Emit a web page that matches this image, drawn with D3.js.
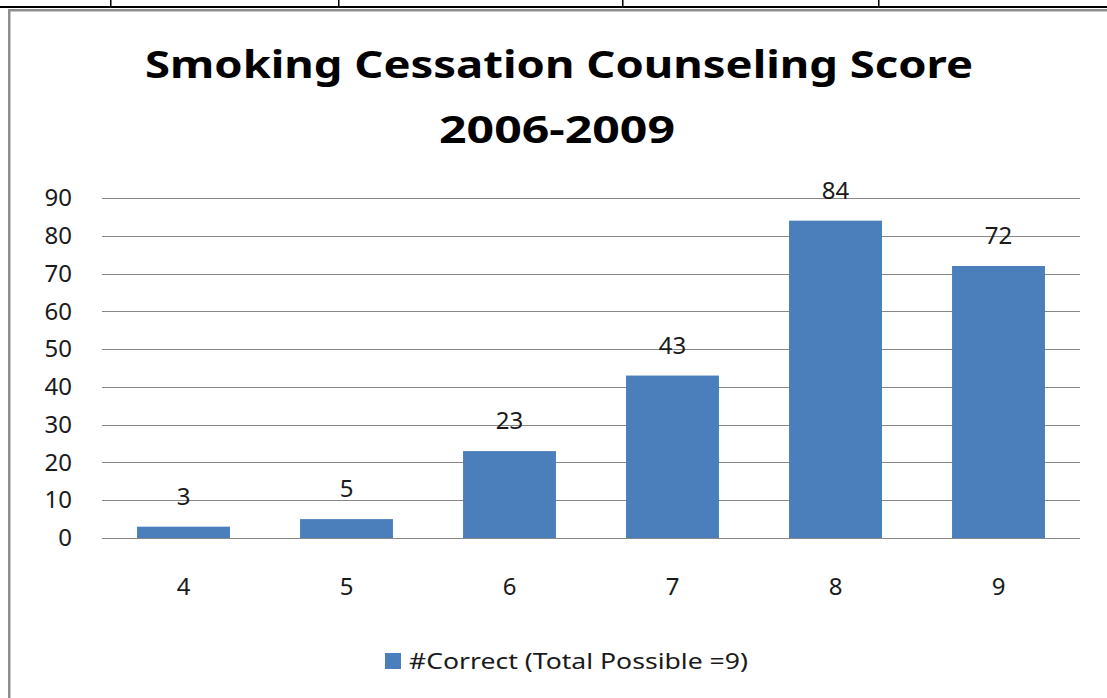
<!DOCTYPE html>
<html>
<head>
<meta charset="utf-8">
<script src="https://cdn.jsdelivr.net/npm/d3@7"></script>
<style>
  html, body { margin: 0; padding: 0; background: #fff; }
  svg { display: block; font-family: "Noto Sans", "Open Sans", sans-serif; }
</style>
</head>
<body>
<div id="chart"></div>
<script>
/** chart data */
const titleLines = ["Smoking Cessation Counseling Score", "2006-2009"];
const categories = ["4", "5", "6", "7", "8", "9"];
const values = [3, 5, 23, 43, 84, 72];
const yTicks = [0, 10, 20, 30, 40, 50, 60, 70, 80, 90];
const seriesName = "#Correct (Total Possible =9)";
const tableCols = [110, 338, 622, 878];

const width = 1107;
const height = 698;
const color = "#4a7fbc";

const svg = d3
  .select("#chart")
  .append("svg")
  .attr("width", width)
  .attr("height", height);

svg.append("rect").attr("width", width).attr("height", height).attr("fill", "#fff");

/** remnants of the surrounding table */
svg.append("rect").attr("x", 0).attr("y", 6).attr("width", width).attr("height", 2).attr("fill", "#000");
for (const x of tableCols)
  svg.append("rect").attr("x", x).attr("y", 0).attr("width", 1.5).attr("height", 7).attr("fill", "#000");

/** chart frame */
svg.append("rect").attr("x", 8).attr("y", 9).attr("width", width).attr("height", 2.5).attr("fill", "#8e8e8e");
svg.append("rect").attr("x", 8).attr("y", 9).attr("width", 2.5).attr("height", height).attr("fill", "#8e8e8e");

/** title */
svg
  .append("text")
  .attr("x", 559)
  .attr("y", 78)
  .attr("text-anchor", "middle")
  .attr("font-size", 38)
  .attr("font-weight", "bold")
  .attr("textLength", 828)
  .attr("lengthAdjust", "spacingAndGlyphs")
  .text(titleLines[0]);
svg
  .append("text")
  .attr("x", 557)
  .attr("y", 143)
  .attr("text-anchor", "middle")
  .attr("font-size", 38)
  .attr("font-weight", "bold")
  .attr("textLength", 236)
  .attr("lengthAdjust", "spacingAndGlyphs")
  .text(titleLines[1]);

/** scales */
const plot = { left: 102, right: 1080, top: 198, bottom: 538 };
const x = d3
  .scaleBand()
  .domain(categories)
  .range([plot.left, plot.right])
  .paddingInner(0.43)
  .paddingOuter(0.215);
const y = d3.scaleLinear().domain([0, 90]).range([plot.bottom, plot.top]);

/** gridlines */
svg
  .append("g")
  .selectAll("line")
  .data(yTicks)
  .join("line")
  .attr("x1", plot.left)
  .attr("x2", plot.right)
  .attr("y1", (d) => Math.round(y(d)) + 0.5)
  .attr("y2", (d) => Math.round(y(d)) + 0.5)
  .attr("stroke", "#878787")
  .attr("stroke-width", 1.2);

/** y axis labels */
const yAxis = svg
  .append("g")
  .attr("transform", `translate(${plot.left - 30},0)`)
  .call(d3.axisLeft(y).tickValues(yTicks).tickSize(0).tickPadding(0));
yAxis.select(".domain").remove();
yAxis.selectAll("text").attr("font-size", 24).attr("font-family", "Noto Sans").attr("fill", "#1a1a1a");

/** bars */
svg
  .append("g")
  .selectAll("rect")
  .data(values)
  .join("rect")
  .attr("x", (d, i) => x(categories[i]))
  .attr("width", x.bandwidth())
  .attr("y", (d) => y(d))
  .attr("height", (d) => y(0) - y(d))
  .attr("fill", color);

/** value labels */
svg
  .append("g")
  .selectAll("text")
  .data(values)
  .join("text")
  .attr("x", (d, i) => x(categories[i]) + x.bandwidth() / 2)
  .attr("y", (d) => y(d) - 22)
  .attr("text-anchor", "middle")
  .attr("font-size", 24)
  .attr("fill", "#1a1a1a")
  .text((d) => d);

/** x axis labels */
const xAxis = svg
  .append("g")
  .attr("transform", `translate(0,${plot.bottom + 40})`)
  .call(d3.axisBottom(x).tickSize(0).tickPadding(0));
xAxis.select(".domain").remove();
xAxis.selectAll("text").attr("font-size", 24).attr("font-family", "Noto Sans").attr("fill", "#1a1a1a");

/** legend */
const legend = svg.append("g").attr("transform", "translate(385,653)");
legend.append("rect").attr("width", 16).attr("height", 16).attr("fill", color);
legend
  .append("text")
  .attr("x", 24)
  .attr("y", 8)
  .attr("dy", "0.35em")
  .attr("font-size", 22)
  .attr("fill", "#1a1a1a")
  .attr("textLength", 339)
  .attr("lengthAdjust", "spacingAndGlyphs")
  .text(seriesName);
</script>
</body>
</html>
